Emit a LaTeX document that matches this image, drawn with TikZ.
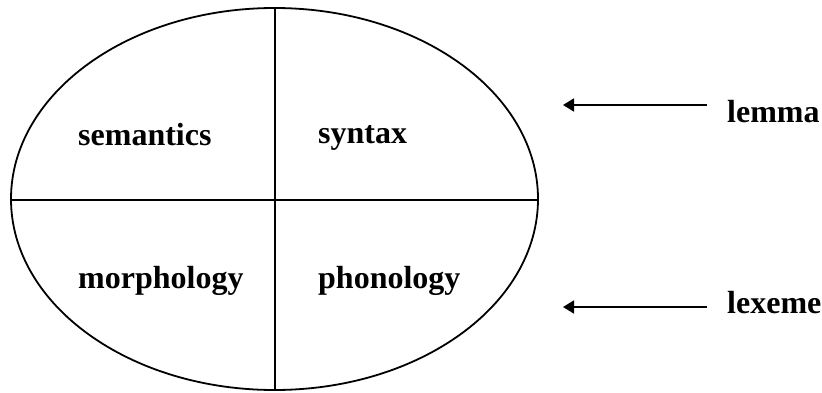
\documentclass[tikz,border=0pt]{standalone}
\usepackage{fontspec}
\setmainfont{Liberation Serif}
\usetikzlibrary{arrows.meta}
\tikzset{
  lbl/.style={anchor=base west, inner sep=0pt, font=\bfseries\fontsize{32}{36}\selectfont},
  shapeline/.style={line width=1.8pt},
  arr/.style={line width=1.8pt, -{Triangle[length=11pt,width=13pt]}}
}
\begin{document}
\begin{tikzpicture}[x=1pt,y=1pt]
\useasboundingbox (0,0) rectangle (822,392);
% ellipse (pixel y flipped: ty = 392 - py)
\draw[shapeline] (274.5,193) ellipse [x radius=263.5, y radius=191];
\coordinate (top) at (275,384);
\coordinate (bot) at (275,2);
\coordinate (lft) at (11,192);
\coordinate (rgt) at (538,192);
\draw[shapeline] (top) -- (bot);
\draw[shapeline] (lft) -- (rgt);
\node[lbl] (sem) at (78,247) {semantics};
\node[lbl] (syn) at (318,249) {syntax};
\node[lbl] (mor) at (78,104) {morphology};
\node[lbl] (pho) at (318,104) {phonology};
\node[lbl] (lem) at (727,270) {lemma};
\node[lbl] (lex) at (727,79) {lexeme};
\coordinate (lemT) at (707,287);
\coordinate (lemH) at (563,287);
\coordinate (lexT) at (707,85);
\coordinate (lexH) at (563,85);
\draw[arr] (lemT) -- (lemH);
\draw[arr] (lexT) -- (lexH);
\end{tikzpicture}
\end{document}
